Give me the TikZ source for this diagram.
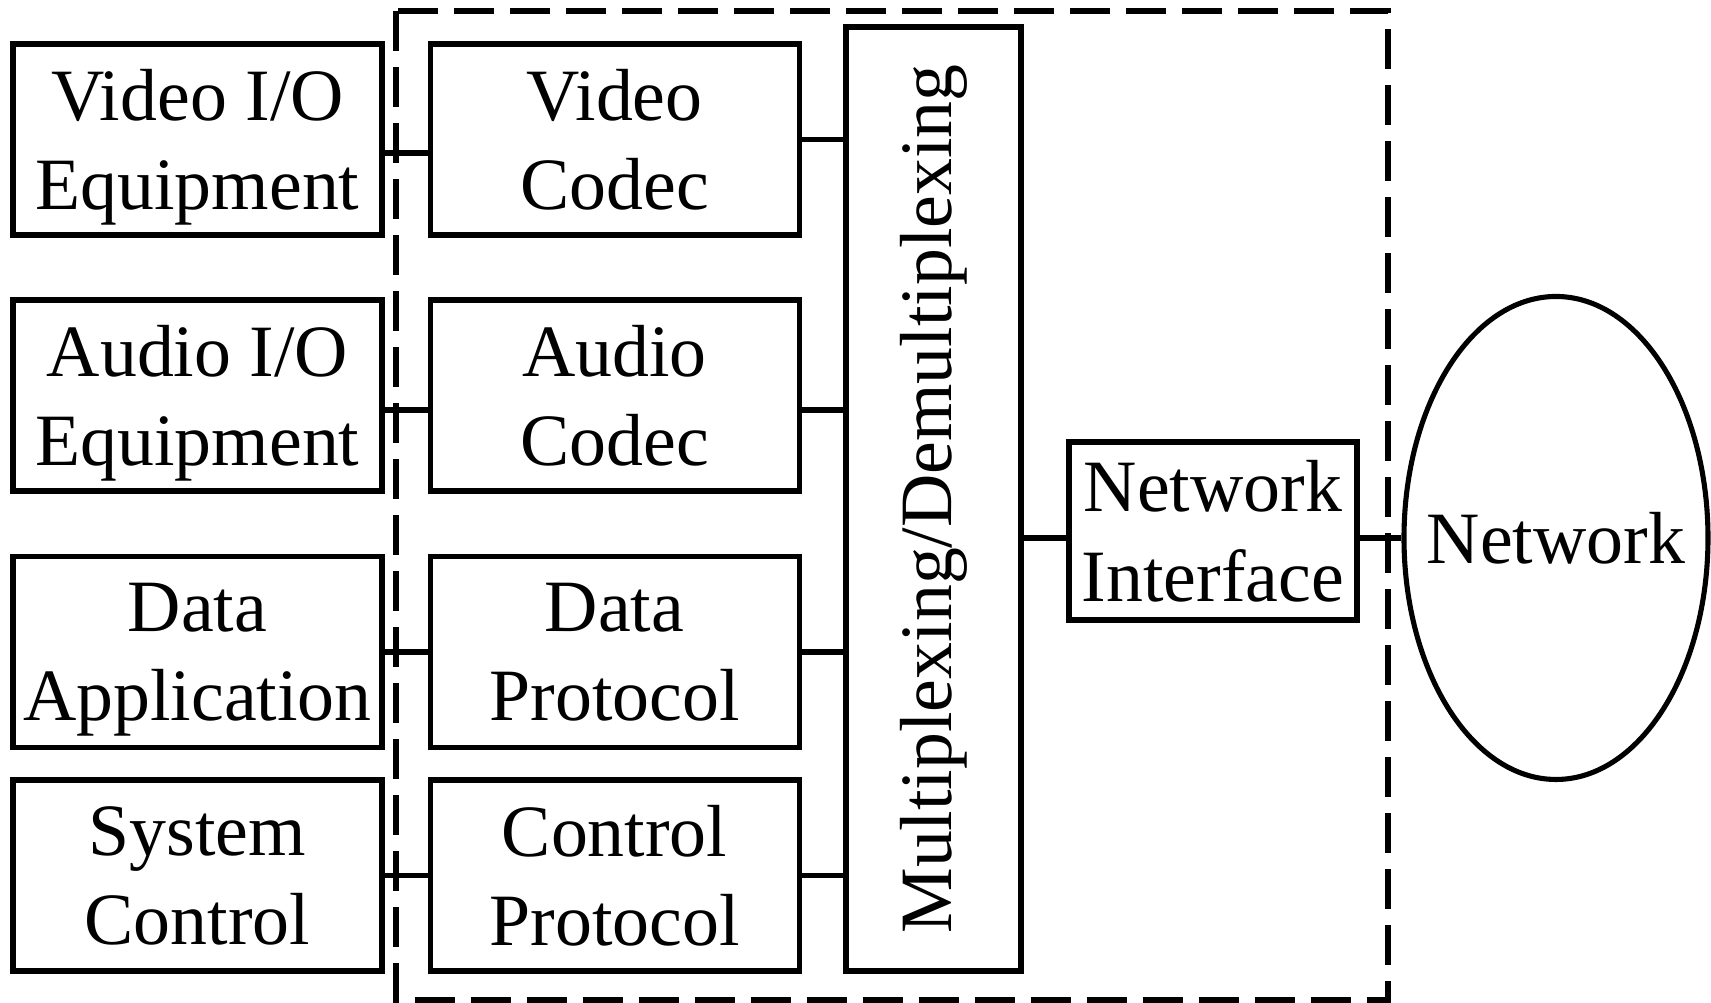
\documentclass[tikz,border=0pt]{standalone}
\usepackage{fontspec}
\setmainfont{Liberation Serif}
\usetikzlibrary{shapes.geometric, positioning}
\tikzstyle{block} = [rectangle,draw,line width=1.45pt,align=center,text centered,text depth=0pt,inner sep=0pt,minimum width=3.69cm,minimum height=1.91cm,font=\fontsize{21}{25.5}\selectfont]
\tikzstyle{wire} = [line width=1.45pt]

\begin{document}
\begin{tikzpicture}
	\useasboundingbox (0,0) rectangle (17.11,10.03);

	% terminal side
	\node[block](vio) at (1.975,8.635) {Video I/O\\Equipment};
	\node[block](aio) at (1.975,6.075) {Audio I/O\\Equipment};
	\node[block](dapp) at (1.975,3.51) {Data\\Application};
	\node[block](sysc) at (1.975,1.275) {System\\Control};

	% codecs and protocols
	\node[block,right=0.43cm of vio](vcodec) {Video\\Codec};
	\node[block,right=0.43cm of aio](acodec) {Audio\\Codec};
	\node[block,right=0.43cm of dapp](dproto) {Data\\Protocol};
	\node[block,right=0.43cm of sysc](cproto) {Control\\Protocol};

	\node[block,minimum width=1.75cm,minimum height=9.44cm](mux) at (9.335,5.04) {\rotatebox{90}{Multiplexing/Demultiplexing}};
	\node[block,minimum width=2.88cm,minimum height=1.78cm](ni) at (12.13,4.72) {Network\\Interface};
	\node[ellipse,draw,line width=1.45pt,inner sep=0pt,minimum width=3.04cm,minimum height=4.83cm,label={[font=\fontsize{21}{25.5}\selectfont]center:Network}](net) at (15.56,4.65) {};

	% links
	\draw[wire] ([yshift=-0.135cm]vio.east) -- ([yshift=-0.135cm]vcodec.west);
	\draw[wire] ([yshift=-0.145cm]aio.east) -- ([yshift=-0.145cm]acodec.west);
	\draw[wire] (dapp) -- (dproto);
	\draw[wire] (sysc) -- (cproto);
	\draw[wire] (vcodec.east) -- (vcodec.east -| mux.west);
	\draw[wire] ([yshift=-0.145cm]acodec.east) -- ([yshift=-0.145cm]acodec.east -| mux.west);
	\draw[wire] (dproto.east) -- (dproto.east -| mux.west);
	\draw[wire] (cproto.east) -- (cproto.east -| mux.west);
	\draw[wire] (mux.east |- net.west) -- (ni.west |- net.west);
	\draw[wire] (ni.east |- net.west) -- (net.west);

	% terminal boundary
	\draw[wire,dash pattern=on 0.4cm off 0.16cm] (3.96,9.92) rectangle (13.88,0.03);

\end{tikzpicture}
\end{document}
